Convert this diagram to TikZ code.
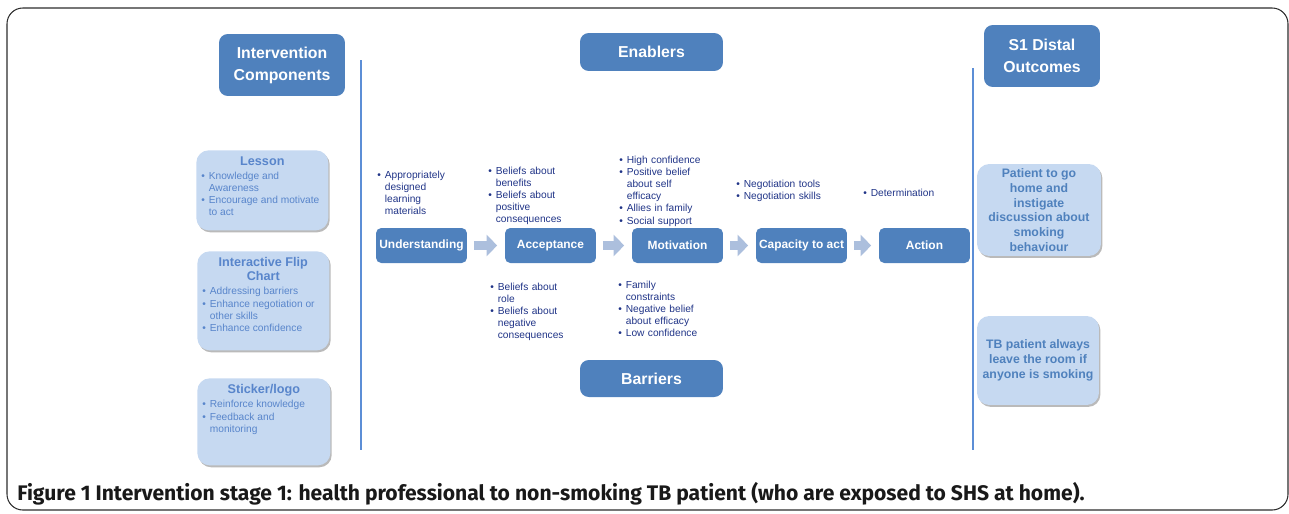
\documentclass[tikz,border=0pt]{standalone}
\usepackage{fontspec}
\setmainfont{Liberation Sans}
\newfontfamily\capfont{Fira Sans}
\usetikzlibrary{shadows,arrows.meta}

\definecolor{dkblue}{RGB}{79,129,189}
\definecolor{ltfill}{RGB}{198,217,241}
\definecolor{lttext}{RGB}{88,133,203}
\definecolor{navy}{RGB}{32,52,135}
\definecolor{divblue}{RGB}{92,142,214}
\definecolor{arrowc}{RGB}{172,191,221}
\definecolor{framec}{RGB}{45,45,45}

% bullet line with hanging indent
\newcommand{\itm}[1]{\par\hangindent=0.15cm\hangafter=1\noindent\makebox[0.15cm][l]{\textbullet}#1\par}
\newcommand{\comptitle}[1]{\vspace*{3.5pt}{\centering\bfseries\fontsize{7.2}{8}\selectfont #1\par}\vspace{1.2pt}\raggedright\leftskip=0.1cm\fontsize{5.8}{6.9}\selectfont}

\begin{document}
\begin{tikzpicture}[x=0.02cm,y=-0.02cm]
    \tikzstyle{head}=[fill=dkblue, rounded corners=5pt, text=white, inner sep=0pt,
      font=\fontsize{9}{12.5}\selectfont\bfseries, align=center]
    \tikzstyle{stage}=[fill=dkblue, rounded corners=3pt, text=white, inner sep=0pt,
      font=\fontsize{6.8}{8}\selectfont\bfseries, minimum width=1.82cm, minimum height=0.7cm]
    \tikzstyle{comp}=[fill=ltfill, rounded corners=7pt, inner sep=0pt, text=lttext, anchor=north west,
      drop shadow={shadow xshift=0.8pt, shadow yshift=-1.1pt, fill=black!60, opacity=0.45}]
    \tikzstyle{outcome}=[comp, anchor=center, text=dkblue, align=center,
      font=\fontsize{7}{8.4}\selectfont\bfseries]
    \tikzstyle{note}=[anchor=north west, inner sep=0pt, text=navy, text width=2.3cm,
      font=\fontsize{5.8}{6.9}\selectfont]
    \tikzstyle{flow}=[draw=arrowc, line width=0.17cm, -{Triangle[length=0.21cm,width=0.42cm]},
      shorten <=0.13cm, shorten >=0.15cm]
    \tikzstyle{divider}=[draw=divblue, line width=1.4pt]

    \useasboundingbox (0,0) rectangle (1289,514);
    \draw[framec, line width=0.6pt, rounded corners=9pt] (7,8) rectangle (1288,510);

    % headers
    \node[head, minimum width=2.52cm, minimum height=1.24cm] (comphead) at (282,65) {Intervention\\Components};
    \node[head, minimum width=2.86cm, minimum height=0.76cm] (enablers) at (651.5,52) {Enablers};
    \node[head, minimum width=2.86cm, minimum height=0.74cm] (barriers) at (651.5,378.5) {Barriers};
    \node[head, minimum width=2.32cm, minimum height=1.24cm] (outhead) at (1042,56) {S1 Distal\\Outcomes};

    \draw[divider] (361,60) -- (361,450);
    \draw[divider] (973,68) -- (973,450);

    % intervention components
    \node[comp] (lesson) at (196,150) {\parbox[t][1.6cm][t]{2.64cm}{\comptitle{Lesson}
      \itm{Knowledge and\newline Awareness}
      \itm{Encourage and motivate\newline to act}}};
    \node[comp] (flipchart) at (197,251) {\parbox[t][1.98cm][t]{2.64cm}{\comptitle{Interactive Flip\\Chart}
      \itm{Addressing barriers}
      \itm{Enhance negotiation or\newline other skills}
      \itm{Enhance confidence}}};
    \node[comp] (sticker) at (197,378) {\parbox[t][1.74cm][t]{2.66cm}{\comptitle{Sticker/logo}
      \itm{Reinforce knowledge}
      \itm{Feedback and\newline monitoring}}};

    % stages
    \node[stage] (understanding) at (421.5,245.5) {Understanding};
    \node[stage] (acceptance) at (550.5,245.5) {Acceptance};
    \node[stage] (motivation) at (677.5,245.5) {Motivation};
    \node[stage] (capacity) at (801.5,245.5) {Capacity to act};
    \node[stage] (action) at (924.5,245.5) {Action};

    \draw[flow] (understanding) -- (acceptance);
    \draw[flow] (acceptance) -- (motivation);
    \draw[flow] (motivation) -- (capacity);
    \draw[flow] (capacity) -- (action);

    % enablers
    \node[note] (understanding-en) at (377,166) {\itm{Appropriately\newline designed\newline learning\newline materials}};
    \node[note] (acceptance-en) at (488,162) {\itm{Beliefs about\newline benefits}
      \itm{Beliefs about\newline positive\newline consequences}};
    \node[note] (motivation-en) at (619,151) {\itm{High confidence}
      \itm{Positive belief\newline about self\newline efficacy}
      \itm{Allies in family}
      \itm{Social support}};
    \node[note] (capacity-en) at (736,175) {\itm{Negotiation tools}
      \itm{Negotiation skills}};
    \node[note] (action-en) at (863,184) {\itm{Determination}};

    % barriers
    \node[note] (acceptance-bar) at (490,278) {\itm{Beliefs about\newline role}
      \itm{Beliefs about\newline negative\newline consequences}};
    \node[note] (motivation-bar) at (618,276) {\itm{Family\newline constraints}
      \itm{Negative belief\newline about efficacy}
      \itm{Low confidence}};

    % outcomes
    \node[outcome, minimum width=2.48cm, minimum height=1.84cm] (discussion) at (1039,210)
      {Patient to go\\home and\\instigate\\discussion about\\smoking\\behaviour};
    \node[outcome, minimum width=2.44cm, minimum height=1.78cm] (leaveroom) at (1038,360.5)
      {TB patient always\\leave the room if\\anyone is smoking};

    \node[anchor=west, inner sep=0pt, text=black!90, font=\capfont\fontsize{12}{14}\selectfont\bfseries] (caption) at (17,494)
      {Figure 1 Intervention stage 1: health professional to non-smoking TB patient (who are exposed to SHS at home).};
\end{tikzpicture}
\end{document}
